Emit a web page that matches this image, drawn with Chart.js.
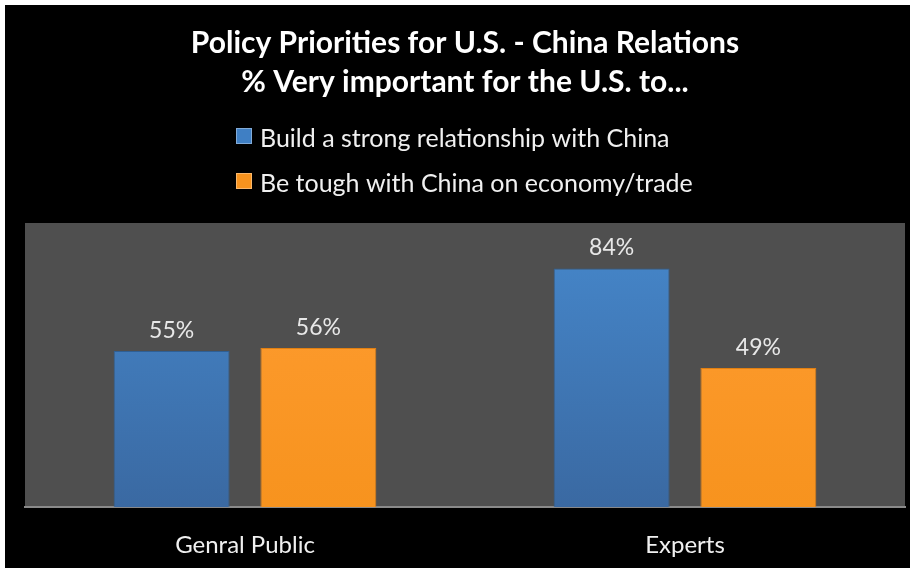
<!DOCTYPE html>
<html>
<head>
<meta charset="utf-8">
<script src="https://cdn.jsdelivr.net/npm/chart.js@4/dist/chart.umd.min.js"></script>
<style>
  html, body { margin: 0; padding: 0; background: #fff; }
  #wrap { position: absolute; left: 5px; top: 5px; width: 905px; height: 563px; background: #000; }
</style>
</head>
<body>
<div id="wrap"><canvas id="policyChart"></canvas></div>
<script>
// data
const categories = ['Genral Public', 'Experts'];
const seriesNames = ['Build a strong relationship with China', 'Be tough with China on economy/trade'];
const buildRelationship = [55, 84];
const beTough = [56, 49];
const titleLines = ['Policy Priorities for U.S. - China Relations', '% Very important for the U.S. to...'];

const FONT = 'Lato';

// vertical gradient for the bars
function barFill(top, bottom) {
    return function (context) {
        const area = context.chart.chartArea;
        if (!area) return top;
        const g = context.chart.ctx.createLinearGradient(0, area.top, 0, area.bottom);
        g.addColorStop(0, top);
        g.addColorStop(1, bottom);
        return g;
    };
}

// grey plot background
const plotBackground = {
    id: 'plotBackground',
    beforeDraw(chart) {
        const { ctx, chartArea } = chart;
        ctx.save();
        ctx.fillStyle = '#4f4f4f';
        ctx.fillRect(chartArea.left, chartArea.top, chartArea.right - chartArea.left, chartArea.bottom - chartArea.top);
        ctx.restore();
    }
};

// value labels above bars
const valueLabels = {
    id: 'valueLabels',
    afterDatasetsDraw(chart) {
        const ctx = chart.ctx;
        ctx.save();
        ctx.font = '23px ' + FONT;
        ctx.fillStyle = '#e8e8e8';
        ctx.textAlign = 'center';
        ctx.textBaseline = 'alphabetic';
        chart.data.datasets.forEach((ds, i) => {
            chart.getDatasetMeta(i).data.forEach((bar, j) => {
                ctx.fillText(ds.data[j] + '%', bar.x, bar.y - 13);
            });
        });
        ctx.restore();
    }
};

// legend stacked in two rows
const stackedLegend = {
    id: 'stackedLegend',
    afterDraw(chart) {
        const ctx = chart.ctx;
        ctx.save();
        ctx.font = '25px ' + FONT;
        ctx.textBaseline = 'alphabetic';
        const swatches = ['#3f7fc4', '#f7931e'];
        const baselines = [142, 187];
        chart.data.datasets.forEach((ds, i) => {
            const x = 231;
            const y = baselines[i];
            ctx.fillStyle = swatches[i];
            ctx.fillRect(x, y - 19, 16, 16);
            ctx.strokeStyle = 'rgba(255,255,255,0.35)';
            ctx.lineWidth = 1;
            ctx.strokeRect(x + 0.5, y - 18.5, 15, 15);
            ctx.fillStyle = '#f0f0f0';
            ctx.fillText(ds.label, x + 24, y);
        });
        ctx.restore();
    }
};

const ctx = document.getElementById('policyChart').getContext('2d');
new Chart(ctx, {
    type: 'bar',
    data: {
        labels: categories,
        datasets: [{
            label: seriesNames[0],
            data: buildRelationship,
            backgroundColor: barFill('#4688cc', '#3a69a2'),
            borderColor: '#2f5f94',
            borderWidth: 1
        }, {
            label: seriesNames[1],
            data: beTough,
            backgroundColor: barFill('#ff9d33', '#f7931e'),
            borderColor: '#e07f12',
            borderWidth: 1
        }]
    },
    options: {
        responsive: true,
        maintainAspectRatio: false,
        animation: false,
        categoryPercentage: 0.667,
        barPercentage: 0.79,
        layout: { padding: { left: 20, right: 5, bottom: -16 } },
        plugins: {
            legend: { display: false },
            tooltip: { enabled: false },
            title: {
                display: true,
                text: titleLines,
                color: '#ffffff',
                font: { family: FONT, size: 30, weight: 'bold', lineHeight: 1.3 },
                padding: { top: 19, bottom: 121 }
            }
        },
        scales: {
            x: {
                grid: { display: false, drawTicks: false },
                border: { display: true, color: '#8a8a8a', width: 2 },
                ticks: {
                    color: '#f0f0f0',
                    font: { family: FONT, size: 24 },
                    padding: 24
                }
            },
            y: {
                display: false,
                min: 0,
                max: 100
            }
        }
    },
    plugins: [plotBackground, valueLabels, stackedLegend]
});
</script>
</body>
</html>
